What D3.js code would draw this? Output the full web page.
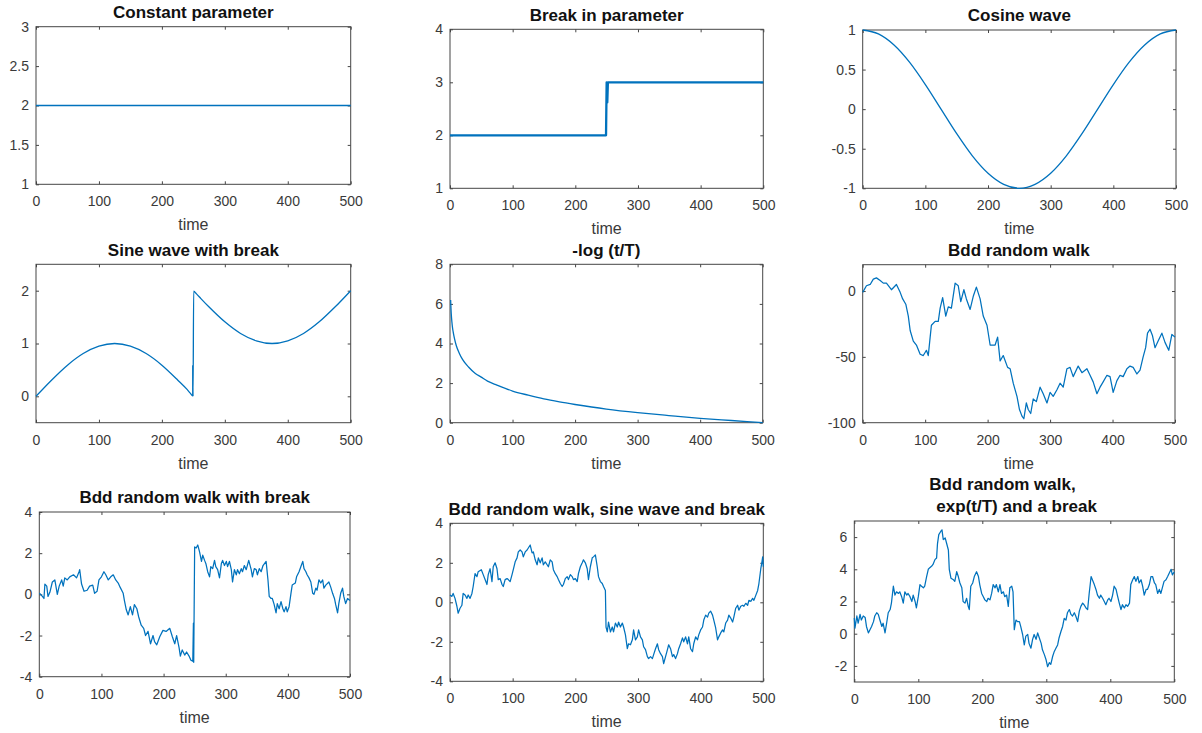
<!DOCTYPE html>
<html>
<head>
<meta charset="utf-8">
<script src="https://cdn.jsdelivr.net/npm/d3@7"></script>
<style>
  html, body { margin: 0; padding: 0; background: #fff; }
  svg { display: block; font-family: "Liberation Sans", Arial, Helvetica, sans-serif; }
  .tick text { fill: #3a3a3a; font-size: 14px; }
  .tick line { stroke: #454545; }
  .frame { fill: none; stroke: #454545; stroke-width: 1; }
  .title { font-weight: bold; font-size: 17px; fill: #111; white-space: pre; }
  .xlabel { font-size: 16px; fill: #3a3a3a; }
  .series { fill: none; stroke: #0072BD; stroke-linejoin: round; }
</style>
</head>
<body>
<svg id="chart" width="1202" height="733"></svg>
<script>
// ---- tick values and labels ----
const timeTicks = [0, 100, 200, 300, 400, 500];
const timeTickLabels = ["0", "100", "200", "300", "400", "500"];

// ---- series: [time, value] ----
const constantParameter = [[0, 2], [100, 2], [200, 2], [300, 2], [400, 2], [500, 2]];

const breakInParameter = [[0, 2], [249, 2], [250, 3], [251, 2.62], [252, 3], [500, 3]];

const cosineWave = [
  [0, 1], [25, 0.95], [50, 0.81], [75, 0.59], [100, 0.31], [125, 0], [150, -0.31],
  [175, -0.59], [200, -0.81], [225, -0.95], [250, -1], [275, -0.95], [300, -0.81],
  [325, -0.59], [350, -0.31], [375, 0], [400, 0.31], [425, 0.59], [450, 0.81],
  [475, 0.95], [500, 1]
];

const sineWithBreak = [
  [0, 0], [25, 0.31], [50, 0.59], [75, 0.81], [100, 0.95], [125, 1], [150, 0.95],
  [175, 0.81], [200, 0.59], [225, 0.31], [240, 0.13], [245, 0.06], [249, 0.01],
  [249, 0.58], [249.5, 0], [250.5, 1.99], [255, 1.94], [262, 1.85], [275, 1.69],
  [300, 1.41], [325, 1.19], [350, 1.05], [375, 1], [400, 1.05], [425, 1.19],
  [450, 1.41], [475, 1.69], [500, 2]
];

const negLogTime = [
  [1, 6.2], [2, 5.5], [3, 5.1], [4, 4.8], [5, 4.6], [7, 4.27], [10, 3.9], [15, 3.5],
  [20, 3.2], [30, 2.8], [40, 2.5], [50, 2.3], [60, 2.1], [75, 1.9], [100, 1.6],
  [125, 1.39], [150, 1.2], [175, 1.05], [200, 0.92], [250, 0.69], [300, 0.51],
  [350, 0.36], [400, 0.22], [450, 0.11], [500, 0]
];

const boundedWalk = [
  [0, -1], [6, 4], [12, 5], [17, 9], [22, 10], [28, 8], [33, 6], [38, 6], [46, 1], [54, 5],
  [60, -1], [64, -6], [69, -10], [73, -19], [76, -30], [81, -38], [86, -41], [92, -48],
  [97, -49], [102, -45], [105, -49], [108, -35], [110, -26], [116, -23], [121, -23],
  [124, -13], [128, -5], [133, -19], [137, -12], [142, -13], [148, 6], [153, 4], [157, -8],
  [162, 1], [166, -6], [172, -14], [177, -4], [182, 3], [188, -6], [193, -19], [199, -26],
  [204, -41], [212, -41], [216, -35], [220, -53], [225, -49], [232, -58], [236, -59],
  [241, -70], [247, -80], [251, -90], [255, -95], [258, -97], [262, -85], [265, -90],
  [269, -93], [273, -82], [278, -84], [284, -73], [289, -78], [295, -85], [300, -77],
  [305, -80], [311, -75], [316, -70], [321, -73], [327, -59], [332, -58], [337, -65],
  [345, -57], [351, -62], [359, -59], [364, -64], [369, -69], [375, -78], [380, -73],
  [385, -69], [391, -64], [396, -65], [401, -77], [407, -68], [412, -64], [417, -65],
  [423, -59], [428, -57], [433, -58], [439, -63], [444, -60], [449, -50], [453, -43],
  [456, -32], [460, -29], [464, -34], [468, -43], [473, -38], [479, -32], [484, -39],
  [490, -45], [495, -33], [500, -35]
];

const boundedWalkBreak = [
  [0, 0.05], [2, 0], [5, -0.1], [7.5, -0.2], [9, 0.5], [12, 0.4], [14, -0.1], [17, 0.1],
  [21, 0.6], [25, 0.7], [29, 0], [32, 0.4], [36, 0.7], [38.5, 0.4], [41, 0.8], [45, 0.7],
  [49, 0.85], [55, 0.95], [60, 0.8], [64, 1.1], [65, 1.2], [68, 0.5], [72, 0.15], [77, 0.2],
  [81, 0.4], [86, 0.45], [89, 0.05], [93, 0.15], [96, 0.7], [100, 0.85], [104, 1.1],
  [107, 0.95], [111, 0.7], [115, 0.85], [119, 0.95], [123, 0.7], [127, 0.55], [130, 0.35],
  [135, 0.05], [137, -0.3], [140, -0.75], [143, -1.0], [146.5, -0.6], [150, -1.0],
  [153, -0.5], [157, -0.7], [160, -1.1], [164, -1.5], [168, -1.65], [171, -2.0],
  [175, -1.8], [179, -2.4], [183, -2.0], [185.5, -2.3], [189, -2.45], [194, -2.05],
  [199, -1.75], [204, -1.8], [210, -1.65], [214, -2.05], [218, -2.4], [221, -2.0],
  [225, -2.6], [227, -3.0], [230, -2.7], [234, -2.95], [237, -2.8], [241, -3.0],
  [244, -3.2], [247, -3.25], [248, -1.4], [248.5, -3.3], [250, 2.3], [252.5, 2.25],
  [255, 2.4], [258, 2.05], [261, 1.6], [263, 1.9], [266, 1.65], [268, 1.5], [271, 1.1],
  [274, 0.85], [276, 1.35], [279, 1.25], [282, 1.65], [284, 1.35], [287, 1.2], [290, 0.8],
  [293, 1.5], [295, 1.65], [298, 1.4], [301, 1.6], [303, 1.35], [306, 1.6], [309, 1.2],
  [311, 0.6], [314, 1.2], [317, 0.95], [319, 1.2], [322, 1.0], [325, 1.25], [327, 1.1],
  [330, 1.4], [333, 1.2], [337, 1.65], [341, 1.2], [343, 0.85], [346, 1.25], [349, 1.2],
  [351, 0.95], [354, 1.25], [357, 1.1], [360, 1.4], [365, 1.6], [368, 0.7], [370, -0.1],
  [373, -0.2], [375, -0.2], [378, -0.5], [381, -0.9], [383, -0.45], [386, -0.7],
  [389, -0.35], [392, -0.7], [394, -0.85], [397, -0.6], [399, -0.85], [402, -0.6],
  [405, 0.05], [407, 0.45], [412, 0.55], [414, 0.85], [418, 1.1], [421, 1.35], [424, 1.6],
  [426, 1.25], [429, 1.1], [431, 0.95], [434, 0.8], [437, 0.6], [440, 0.05], [442, 0],
  [445, 0.3], [447, 0.2], [450, 0.7], [453, 0.55], [456, 0.7], [458, 0.3], [461, 0.45],
  [466, 0.6], [469, 0.35], [472, 0.05], [475, -0.2], [477, -0.5], [480, -0.9],
  [482, -0.45], [485, 0.05], [488, 0.3], [490, -0.1], [493, -0.45], [496, -0.2], [500, -0.3]
];

const boundedWalkSineBreak = [
  [0, 0.37], [3, 0.3], [5, 0.45], [8, 0.2], [11, -0.2], [13, -0.55], [16, -0.3], [19, -0.15],
  [21, 0.45], [24, 0.37], [27, 0.2], [29, 0.37], [32, 0.2], [35, 0.45], [37, 0.8], [40, 1.45],
  [43, 1.3], [45, 1.55], [50, 1.65], [53, 1.4], [56, 1.15], [59, 0.9], [61, 1.4], [64, 1.7],
  [67, 1.05], [69, 1.8], [72, 2.0], [75, 1.7], [77, 1.15], [80, 1.2], [83, 0.9], [85, 0.8],
  [88, 1.15], [91, 1.2], [93, 1.15], [96, 1.05], [99, 1.4], [101, 1.65], [104, 2.05],
  [107, 2.25], [109, 2.55], [112, 2.65], [115, 2.55], [117, 2.3], [120, 2.55], [123, 2.65],
  [125, 2.75], [128, 2.9], [131, 2.5], [133, 2.55], [136, 2.15], [139, 1.9], [141, 2.25],
  [144, 2.0], [147, 2.25], [149, 1.9], [152, 2.05], [155, 1.9], [157, 1.8], [160, 2.15],
  [163, 2.05], [165, 1.65], [168, 1.45], [171, 1.3], [173, 1.15], [176, 0.95], [179, 0.8],
  [181, 0.9], [184, 1.2], [187, 1.3], [189, 1.15], [192, 1.4], [195, 1.3], [197, 1.15],
  [200, 1.2], [203, 1.05], [205, 1.45], [208, 1.8], [211, 2.0], [213, 2.15], [216, 2.0],
  [219, 1.7], [221, 1.15], [224, 1.8], [227, 2.25], [229, 2.3], [232, 2.4], [235, 1.8],
  [237, 1.3], [240, 1.05], [243, 0.95], [245, 0.8], [248, 0.6], [249, -1.25], [251, -1.5],
  [253, -1.0], [256, -1.5], [259, -1.25], [261, -1.5], [264, -1.05], [267, -1.25],
  [269, -1.0], [272, -1.25], [275, -1.05], [277, -1.25], [280, -1.65], [283, -2.35],
  [285, -2.1], [288, -2.15], [291, -1.9], [293, -1.4], [296, -1.9], [299, -1.75],
  [301, -1.4], [304, -1.75], [307, -1.9], [309, -2.25], [312, -2.4], [315, -2.75],
  [317, -2.85], [320, -2.75], [323, -2.85], [325, -2.65], [328, -2.35], [331, -2.1],
  [333, -2.4], [336, -2.6], [339, -2.75], [341, -3.1], [344, -2.75], [347, -2.4],
  [349, -2.15], [352, -2.35], [355, -2.75], [357, -2.65], [360, -2.85], [363, -2.6],
  [365, -2.35], [368, -2.1], [371, -1.8], [373, -2.0], [376, -1.75], [379, -2.1],
  [381, -1.75], [384, -2.35], [387, -2.5], [389, -2.1], [392, -1.75], [395, -1.9],
  [397, -1.65], [400, -1.4], [403, -1.25], [405, -0.9], [408, -0.65], [411, -0.75],
  [413, -0.55], [416, -0.45], [419, -0.65], [421, -0.9], [424, -1.3], [427, -1.9],
  [429, -1.75], [432, -1.55], [435, -1.4], [437, -1.5], [440, -1.05], [443, -0.9],
  [445, -0.65], [448, -0.8], [451, -1.0], [453, -0.75], [456, -0.3], [459, -0.15],
  [461, -0.4], [464, -0.2], [467, -0.15], [469, -0.2], [472, -0.05], [475, -0.15],
  [477, 0.1], [480, 0.05], [483, 0.2], [485, 0.1], [488, 0.35], [491, 0.6], [493, 0.95],
  [496, 1.7], [497.6, 2.0], [499, 2.3], [500, 1.8]
];

const boundedWalkExpBreak = [
  [0, 0.97], [1, 0.35], [4, 1.1], [6, 0.65], [9, 1.2], [11, 0.85], [14, 1.1], [17, 1.0],
  [19, 0.45], [22, 0.05], [24.5, 0.25], [27, 0.45], [30, 0.75], [32, 1.1], [35, 1.3],
  [37.5, 1.2], [40, 0.85], [43, 0.45], [45, 0.65], [48, 0.05], [50.5, 0.65], [53, 1.3],
  [56, 1.5], [58, 1.9], [61, 2.95], [63.5, 2.4], [66, 2.6], [69, 2.5], [71, 2.6], [74, 2.3],
  [76.5, 1.9], [79, 2.6], [82, 2.4], [84, 2.5], [87, 2.3], [90, 2.0], [92, 2.4], [95, 2.0],
  [97, 1.6], [100, 2.3], [102.6, 3.05], [105, 2.95], [108, 2.85], [110, 2.95], [113, 3.55],
  [115.6, 4.0], [118, 4.1], [121, 4.2], [123, 4.3], [126, 4.6], [128.6, 4.7], [130, 5.6],
  [132, 6.15], [135, 6.35], [137, 6.45], [139, 5.85], [142, 5.95], [144, 5.65], [147, 5.2],
  [148.4, 4.0], [151, 3.45], [155, 3.35], [157, 3.25], [160, 3.85], [162.5, 3.55],
  [165, 3.15], [168, 2.85], [170, 2.0], [173, 1.9], [175.5, 2.2], [178, 1.7], [179.7, 1.5],
  [182, 2.95], [185, 3.15], [187.5, 3.55], [191, 3.85], [194, 3.55], [196, 3.05], [199, 2.5],
  [201.6, 2.3], [204, 2.1], [207, 2.0], [209, 2.2], [212, 2.1], [214.6, 2.5], [217, 3.05],
  [220, 2.85], [222, 3.05], [225, 2.6], [227.6, 3.05], [230, 2.5], [233, 2.6], [235, 2.3],
  [238, 2.4], [240.6, 1.7], [243, 2.85], [246, 2.95], [248, 2.6], [250, 0.25], [252.6, 0.85],
  [255, 0.75], [258, 0.75], [260, 0.45], [263, -0.05], [265.6, -0.7], [268, -0.15],
  [271, -0.05], [273, -0.6], [276, -0.9], [278.6, -0.35], [281, -0.05], [284, -0.35],
  [286.5, 0.05], [289, -0.25], [292, -0.6], [294, -1.0], [297, -1.3], [299.5, -1.6],
  [302, -2.05], [304.7, -1.8], [307, -1.9], [310, -1.4], [312.5, -1.1], [315, -0.9],
  [317.7, -0.7], [320, -0.25], [323, 0.15], [325.5, 0.45], [328, 0.95], [330.7, 0.85],
  [333, 1.3], [336, 1.5], [338.5, 1.2], [341, 1.1], [343.8, 1.3], [346, 1.1], [349, 0.75],
  [351.6, 1.4], [354, 1.7], [356.8, 1.9], [359, 1.8], [362, 1.6], [364.6, 1.5], [367, 2.5],
  [370, 3.55], [372, 3.35], [375, 3.05], [377.6, 2.75], [380, 2.4], [383, 2.2], [385, 2.4],
  [388, 2.2], [390.6, 2.0], [393, 1.8], [396, 2.1], [398, 2.2], [401, 2.0], [403.6, 2.4],
  [406, 2.95], [409, 2.75], [411, 2.4], [414, 1.9], [416.7, 1.5], [419, 1.8], [422, 1.6],
  [424.5, 1.8], [427, 1.7], [430, 1.9], [432, 3.05], [435, 3.35], [437.5, 3.55], [440, 3.25],
  [443, 3.55], [445, 3.15], [448, 3.35], [450.5, 2.95], [453, 2.4], [456, 2.75], [458, 2.75],
  [461, 3.05], [463.5, 3.55], [466, 3.55], [469, 3.15], [471, 3.05], [474, 2.5], [476.6, 2.75],
  [479, 2.5], [482, 2.95], [484, 3.25], [487, 3.35], [489.6, 3.55], [492, 3.75], [495, 4.0],
  [497, 3.65], [500, 3.85]
];

// ---- panel titles and value axes ----
const panelTitles = [
  ["Constant parameter"],
  ["Break in parameter"],
  ["Cosine wave"],
  ["Sine wave with break"],
  ["-log (t/T)"],
  ["Bdd random walk"],
  ["Bdd random walk with break"],
  ["Bdd random walk, sine wave and break"],
  ["Bdd random walk,     ", " exp(t/T) and a break"]
];
const valueDomains = [[1, 3], [1, 4], [-1, 1], [-0.5, 2.5], [0, 8], [-100, 20], [-4, 4], [-4, 4], [-3, 7]];
const valueTicks = [
  [1, 1.5, 2, 2.5, 3], [1, 2, 3, 4], [-1, -0.5, 0, 0.5, 1], [0, 1, 2], [0, 2, 4, 6, 8],
  [-100, -50, 0], [-4, -2, 0, 2, 4], [-4, -2, 0, 2, 4], [-2, 0, 2, 4, 6]
];
const valueTickLabels = [
  ["1", "1.5", "2", "2.5", "3"], ["1", "2", "3", "4"], ["-1", "-0.5", "0", "0.5", "1"],
  ["0", "1", "2"], ["0", "2", "4", "6", "8"], ["-100", "-50", "0"],
  ["-4", "-2", "0", "2", "4"], ["-4", "-2", "0", "2", "4"], ["-2", "0", "2", "4", "6"]
];
const panelSeries = [
  constantParameter, breakInParameter, cosineWave, sineWithBreak, negLogTime,
  boundedWalk, boundedWalkBreak, boundedWalkSineBreak, boundedWalkExpBreak
];

// ---- layout: plot boxes [left, right, top, bottom] and line styling ----
const layout = [
  { box: [36, 350.7, 26.7, 184.3], smooth: false, width: 1.5 },
  { box: [450, 763.3, 29.3, 188.3], smooth: false, width: 2.3 },
  { box: [862.7, 1176, 30, 188.3], smooth: true, width: 1.3 },
  { box: [36, 350.7, 264.3, 422.7], smooth: true, width: 1.3 },
  { box: [450, 762.7, 264.3, 422.7], smooth: true, width: 1.3 },
  { box: [862.7, 1175, 264.7, 422.7], smooth: false, width: 1.25 },
  { box: [39.3, 350, 512, 676.7], smooth: false, width: 1.25 },
  { box: [450, 763.3, 523.3, 681.3], smooth: false, width: 1.25 },
  { box: [854.3, 1174.3, 521, 682], smooth: false, width: 1.25 }
];

const svg = d3.select("#chart");
svg.append("rect").attr("width", 1202).attr("height", 733).attr("fill", "#fff");

layout.forEach((cfg, i) => {
  const [left, right, top, bottom] = cfg.box;
  const x = d3.scaleLinear().domain([0, 500]).range([left, right]);
  const y = d3.scaleLinear().domain(valueDomains[i]).range([bottom, top]);
  const g = svg.append("g");

  // axes with inward ticks on all four sides
  const yLabels = valueTickLabels[i];
  g.append("g").attr("transform", `translate(0,${bottom})`)
    .call(d3.axisBottom(x).tickValues(timeTicks).tickFormat((d, k) => timeTickLabels[k])
      .tickSizeInner(-3).tickSizeOuter(0).tickPadding(12))
    .call(a => a.select(".domain").remove());
  g.append("g").attr("transform", `translate(0,${top})`)
    .call(d3.axisTop(x).tickValues(timeTicks).tickFormat("").tickSizeInner(-3).tickSizeOuter(0))
    .call(a => a.select(".domain").remove());
  g.append("g").attr("transform", `translate(${left},0)`)
    .call(d3.axisLeft(y).tickValues(valueTicks[i]).tickFormat((d, k) => yLabels[k])
      .tickSizeInner(-3).tickSizeOuter(0).tickPadding(7))
    .call(a => a.select(".domain").remove());
  g.append("g").attr("transform", `translate(${right},0)`)
    .call(d3.axisRight(y).tickValues(valueTicks[i]).tickFormat("").tickSizeInner(-3).tickSizeOuter(0))
    .call(a => a.select(".domain").remove());
  g.selectAll(".tick text").attr("font-family", null).attr("font-size", null);

  // plot frame
  g.append("rect").attr("class", "frame")
    .attr("x", left).attr("y", top)
    .attr("width", right - left).attr("height", bottom - top);

  // series line, drawn above the frame
  const line = d3.line()
    .x(d => x(d[0]))
    .y(d => y(d[1]))
    .curve(cfg.smooth ? d3.curveMonotoneX : d3.curveLinear);
  g.append("path")
    .attr("class", "series")
    .attr("stroke-width", cfg.width)
    .attr("d", line(panelSeries[i]));

  // titles (multi-line titles stack upward from the frame)
  const lines = panelTitles[i];
  const cx = (left + right) / 2;
  lines.forEach((t, k) => {
    g.append("text").attr("class", "title")
      .attr("x", cx)
      .attr("y", top - 8.6 - (lines.length - 1 - k) * 22.7)
      .attr("text-anchor", "middle")
      .text(t);
  });

  // x-axis label
  g.append("text").attr("class", "xlabel")
    .attr("x", cx).attr("y", bottom + 46)
    .attr("text-anchor", "middle")
    .text("time");
});
</script>
</body>
</html>
